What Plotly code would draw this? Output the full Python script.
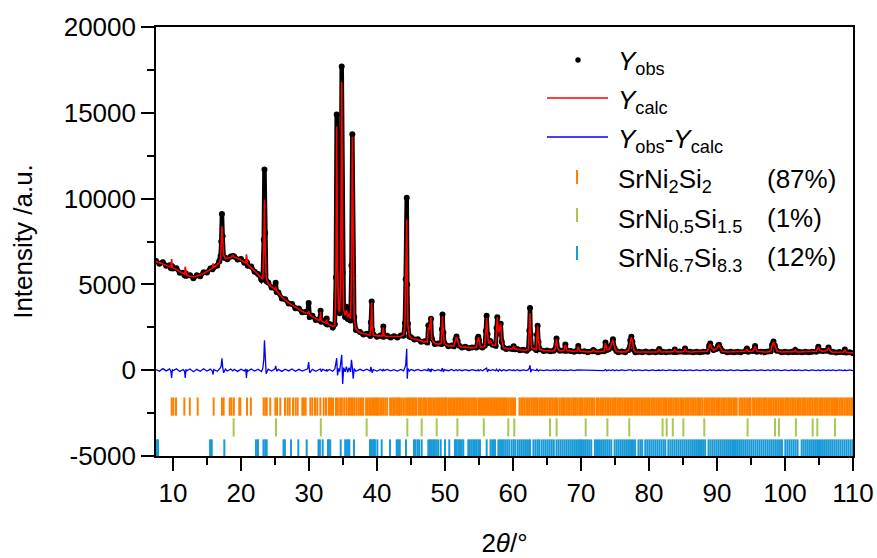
import plotly.graph_objects as go

# ---------------- data ----------------
two_theta = [
    7.5, 8.0, 8.5, 9.0, 9.5, 9.7, 9.8, 9.9, 10.0, 10.5,
    11.0, 11.5, 11.7, 11.8, 11.9, 12.0, 12.5, 13.0, 13.5, 14.0,
    14.5, 15.0, 15.5, 15.8, 15.9, 16.0, 16.5, 16.8, 17.0, 17.1,
    17.2, 17.3, 17.45, 17.7, 18.0, 18.5, 18.8, 19.0, 19.5, 20.0,
    20.5, 20.7, 20.8, 20.9, 21.0, 21.5, 22.0, 22.5, 23.0, 23.2,
    23.35, 23.45, 23.55, 23.7, 24.0, 24.5, 25.0, 25.1, 25.25, 25.5,
    26.0, 26.5, 27.0, 27.5, 28.0, 28.5, 29.0, 29.5, 29.8, 29.95,
    30.1, 30.5, 31.0, 31.5, 31.6, 31.7, 31.8, 32.0, 32.5, 32.6,
    32.7, 33.0, 33.5, 33.8, 33.95, 34.07, 34.2, 34.35, 34.5, 34.65,
    34.81, 34.95, 35.1, 35.3, 35.5, 35.7, 35.9, 36.1, 36.25, 36.37,
    36.5, 36.65, 36.9, 37.5, 38.0, 38.5, 39.0, 39.1, 39.22, 39.3,
    39.45, 40.0, 40.5, 40.8, 40.93, 41.05, 41.5, 42.0, 42.5, 43.0,
    43.5, 43.9, 44.1, 44.22, 44.37, 44.45, 44.55, 44.75, 45.0, 45.5,
    46.0, 46.5, 47.0, 47.4, 47.55, 47.7, 47.8, 47.94, 48.05, 48.5,
    49.0, 49.45, 49.55, 49.63, 49.75, 49.9, 50.5, 51.0, 51.3, 51.55,
    51.7, 51.85, 52.1, 52.5, 53.0, 53.5, 54.0, 54.6, 54.8, 54.9,
    55.0, 55.2, 55.5, 55.85, 56.0, 56.12, 56.25, 56.4, 56.7, 57.0,
    57.45, 57.58, 57.69, 57.85, 58.0, 58.19, 58.35, 58.6, 59.0, 59.5,
    59.9, 60.1, 60.3, 60.6, 61.0, 61.5, 62.0, 62.25, 62.4, 62.5,
    62.6, 62.75, 63.4, 63.52, 63.62, 63.75, 63.95, 64.5, 65.0, 65.5,
    66.0, 66.2, 66.4, 66.6, 66.9, 67.5, 67.7, 67.9, 68.5, 69.0,
    69.4, 69.6, 69.8, 70.5, 71.0, 71.6, 71.8, 72.0, 72.5, 73.0,
    73.4, 73.6, 73.8, 74.1, 74.4, 74.7, 74.95, 75.2, 75.5, 76.0,
    76.5, 77.0, 77.25, 77.4, 77.55, 77.8, 78.0, 78.5, 79.0, 79.5,
    80.0, 80.5, 81.0, 81.3, 81.5, 81.7, 82.0, 82.5, 83.0, 83.6,
    83.8, 84.0, 84.5, 85.1, 85.3, 85.5, 86.0, 86.5, 87.0, 87.5,
    88.0, 88.6, 88.85, 89.0, 89.15, 89.5, 89.9, 90.15, 90.3, 90.5,
    90.8, 91.5, 92.0, 92.5, 93.0, 93.5, 94.2, 94.4, 94.6, 95.3,
    95.6, 95.85, 96.5, 97.0, 97.5, 97.9, 98.1, 98.3, 98.5, 98.8,
    99.5, 100.0, 100.5, 101.0, 101.3, 101.5, 101.7, 102.0, 102.5, 103.0,
    103.5, 104.0, 104.6, 104.9, 105.15, 105.6, 106.1, 106.4, 106.7, 107.0,
    107.5, 108.0, 108.6, 108.8, 109.0, 109.5, 110.0,
]

y_calc = [
    6330, 6270, 6200, 6130, 6050, 6020, 6480, 6000, 5960, 5860,
    5750, 5640, 5600, 6030, 5570, 5540, 5470, 5450, 5480, 5540,
    5630, 5750, 5870, 5950, 6230, 5980, 6150, 6260, 6500, 7200,
    8400, 7600, 6700, 6500, 6520, 6560, 6700, 6580, 6520, 6420,
    6300, 6250, 6750, 6200, 6150, 5980, 5780, 5550, 5350, 5300,
    7000, 9950, 7500, 5400, 5050, 4870, 4700, 4850, 4620, 4480,
    4250, 4080, 3920, 3790, 3670, 3550, 3430, 3330, 3320, 3450,
    3250, 3120, 2990, 2900, 2950, 3400, 2900, 2830, 2760, 2950,
    2720, 2650, 2550, 2600, 5000, 14200, 6000, 3500, 3400, 5000,
    16800, 6500, 3500, 3200, 3500, 3100, 3300, 3000, 5500, 13600,
    6000, 3000, 2400, 2180, 2120, 2070, 2050, 2600, 3950, 2500,
    2050, 2000, 1980, 2000, 2480, 2000, 1960, 1950, 1950, 1960,
    1980, 2050, 2600, 5000, 8800, 5500, 2600, 2000, 1880, 1820,
    1760, 1700, 1650, 1650, 2500, 2350, 2600, 3100, 1800, 1560,
    1520, 1560, 2300, 3150, 2300, 1550, 1420, 1400, 1420, 1750,
    1930, 1750, 1400, 1360, 1330, 1310, 1300, 1350, 1800, 1930,
    1800, 1350, 1350, 1400, 2200, 3060, 2200, 1550, 1700, 1450,
    1450, 2400, 3080, 2200, 2300, 2710, 1700, 1300, 1260, 1240,
    1250, 1380, 1250, 1210, 1190, 1170, 1160, 1200, 2200, 3330,
    2200, 1300, 1200, 2000, 2590, 1700, 1200, 1140, 1130, 1120,
    1120, 1250, 1815, 1250, 1120, 1150, 1480, 1150, 1100, 1100,
    1120, 1385, 1120, 1080, 1070, 1080, 1190, 1080, 1070, 1080,
    1120, 1580, 1200, 1200, 1450, 1775, 1300, 1100, 1070, 1070,
    1070, 1150, 1700, 1930, 1700, 1150, 1070, 1060, 1060, 1070,
    1060, 1060, 1060, 1080, 1230, 1080, 1060, 1060, 1060, 1080,
    1200, 1080, 1070, 1090, 1260, 1090, 1060, 1060, 1060, 1060,
    1060, 1100, 1400, 1520, 1350, 1150, 1250, 1400, 1480, 1300,
    1100, 1060, 1060, 1060, 1060, 1060, 1100, 1250, 1100, 1100,
    1385, 1100, 1060, 1060, 1070, 1120, 1450, 1640, 1450, 1120,
    1060, 1060, 1060, 1060, 1080, 1160, 1080, 1060, 1060, 1060,
    1060, 1060, 1100, 1350, 1150, 1100, 1150, 1300, 1100, 1050,
    1050, 1040, 1060, 1200, 1050, 1020, 1010,
]

y_diff = [
    40, -60, 90, -40, 70, -80, -450, 50, -30, 80,
    -70, 40, -60, -450, 60, -40, 70, -90, 50, -60,
    80, -50, 60, -70, -250, 40, -60, 80, 150, 300,
    700, 200, -150, 60, -50, 70, -40, 50, -70, 60,
    -40, 70, -450, 40, -60, 70, -50, 60, -80, 100,
    600, 1750, 500, -200, 60, -50, 80, 250, -60, 50,
    -70, 60, -40, 70, -60, 50, -50, 60, 80, 470,
    -150, 50, -60, 40, 60, 70, -80, 50, -40, 60,
    -50, 40, -60, 80, 400, 700, -300, 100, -80, 300,
    900, -800, 150, -100, 200, -120, 150, -100, 600, 150,
    -500, 100, -60, 50, -40, 60, -50, 200, 60, -150,
    40, -50, 40, -40, 60, -30, 50, -40, 30, -50,
    40, -40, 150, 300, 1250, -500, 100, -40, 40, -30,
    40, -40, 30, -30, 100, -60, 50, -100, 60, -40,
    30, -40, 80, 90, -100, 40, -30, 40, -30, 40,
    30, -30, 30, -30, 30, -30, 30, -30, 40, 20,
    -40, 30, -30, 30, 80, 120, -100, 30, -20, 30,
    -30, 60, 0, -60, 40, 0, -40, 30, -30, 30,
    -20, 20, -30, 30, -30, 20, -20, 30, 120, 290,
    -120, 30, -20, 60, 0, -50, 20, -20, 20, -20,
    20, -20, 30, -30, 20, -20, 20, -20, 20, -20,
    20, 20, -20, 20, -20, 20, -10, 20, -20, 20,
    -20, 40, -30, 20, -20, 30, -30, 20, -20, 20,
    -20, 20, 30, 20, -30, 20, -20, 20, -20, 20,
    -20, 20, -20, 20, 10, -20, 20, -20, 20, -20,
    10, -20, 20, -20, 10, -20, 20, -20, 20, -20,
    20, -20, 20, 30, -20, 20, -20, 20, 10, -20,
    20, -20, 20, -20, 20, -20, 20, 10, -20, 20,
    20, -20, 20, -20, 20, -20, 20, 30, -20, 20,
    -20, 20, -20, 20, -20, 10, -20, 20, -20, 20,
    -20, 20, -20, 20, -20, 20, -20, 20, -20, 20,
    -20, 20, -20, 10, -20, 20, -20,
]

y_obs = [c + d for c, d in zip(y_calc, y_diff)]

# Bragg reflection positions (2theta, deg)
refl_srni2si2 = [
    9.81, 10.05, 10.44, 11.67, 12.47, 13.63, 15.98, 17.2, 17.45, 18.35,
    18.6, 18.95, 19.75, 19.9, 20.88, 21.45, 23.33, 23.58, 23.78, 24.3,
    25.05, 25.3, 25.78, 26.47, 26.86, 27.16, 27.65, 28.04, 28.33, 29.02,
    29.25, 29.51, 30.2, 30.49, 30.88, 31.22, 31.67, 32.16, 32.5, 32.9,
    33.1, 33.35, 33.55, 33.97, 34.25, 34.58, 34.83, 35.17, 35.5, 35.8,
    36.02, 36.26, 36.45, 36.7, 36.98, 37.27, 37.52, 37.76, 37.98, 38.4,
    38.62, 38.86, 39.1, 39.32, 39.56, 39.78, 40.0, 40.18, 40.46, 40.7,
    40.92, 41.2, 41.5, 41.93, 42.15, 42.38, 42.6, 42.82, 43.05, 43.25,
    43.37, 43.65, 43.96, 44.28, 44.5, 44.72, 44.95, 45.18, 45.4, 45.62,
    45.82, 46.15, 46.36, 46.56, 46.83, 47.06, 47.3, 47.56, 47.79, 48.06,
    48.3, 48.52, 48.8, 49.02, 49.24, 49.46, 49.68, 49.9, 50.1, 50.25,
    50.52, 50.73, 51.0, 51.22, 51.44, 51.66, 51.88, 52.1, 52.32, 52.54,
    52.76, 52.98, 53.2, 53.42, 53.66, 53.95, 54.17, 54.4, 54.64, 54.92,
    55.14, 55.36, 55.58, 55.8, 56.02, 56.24, 56.46, 56.68, 56.9, 57.12,
    57.34, 57.56, 57.78, 58.0, 58.22, 58.44, 58.66, 58.82, 59.1, 59.35,
    59.6, 59.85, 60.1, 60.3, 60.95, 61.2, 61.45, 61.7, 61.95, 62.2,
    62.45, 62.7, 62.95, 63.2, 63.4, 63.62, 63.88, 64.13, 64.38, 64.6,
    64.82, 65.07, 65.32, 65.57, 65.82, 66.07, 66.32, 66.55, 66.85, 67.1,
    67.35, 67.6, 67.85, 68.1, 68.35, 68.6, 68.85, 69.0, 69.25, 69.5,
    69.75, 70.0, 70.25, 70.5, 70.75, 71.0, 71.25, 71.5, 71.75, 72.0,
    72.35, 72.6, 72.85, 73.1, 73.35, 73.6, 73.85, 74.1, 74.35, 74.6,
    74.85, 75.1, 75.35, 75.6, 75.85, 76.1, 76.35, 76.6, 76.85, 77.05,
    77.35, 77.6, 77.85, 78.1, 78.35, 78.6, 78.85, 79.1, 79.35, 79.55,
    79.85, 80.1, 80.35, 80.6, 80.85, 81.1, 81.35, 81.6, 81.85, 82.1,
    82.35, 82.6, 82.85, 83.1, 83.35, 83.6, 83.85, 84.1, 84.35, 84.6,
    84.85, 85.1, 85.35, 85.6, 85.85, 86.1, 86.35, 86.6, 86.85, 87.1,
    87.35, 87.6, 87.85, 88.15, 88.4, 88.65, 88.9, 89.15, 89.4, 89.65,
    89.9, 90.15, 90.4, 90.65, 90.9, 91.15, 91.4, 91.65, 91.9, 92.15,
    92.4, 92.65, 92.9, 93.3, 93.55, 93.8, 94.05, 94.3, 94.55, 94.8,
    94.95, 95.3, 95.55, 95.8, 96.05, 96.3, 96.55, 96.8, 97.05, 97.3,
    97.55, 97.8, 98.05, 98.3, 98.55, 98.8, 99.05, 99.3, 99.55, 99.8,
    100.05, 100.3, 100.55, 100.8, 101.05, 101.3, 101.55, 101.8, 102.05, 102.3,
    102.55, 102.8, 103.05, 103.3, 103.55, 103.8, 104.05, 104.3, 104.55, 104.8,
    105.05, 105.3, 105.55, 105.8, 106.05, 106.3, 106.55, 106.8, 107.05, 107.3,
    107.5, 107.75, 108.0, 108.25, 108.5, 108.75, 109.0, 109.25, 109.5, 109.75,
    109.95,
]

refl_srni05si15 = [
    18.92, 25.15, 31.74, 38.48, 44.46, 46.57, 48.78, 51.82, 55.7, 59.31,
    60.19, 65.44, 66.42, 70.69, 73.88, 77.1, 82.0, 82.6, 83.5, 85.05,
    88.13, 94.5, 98.53, 99.12, 101.6, 104.07, 104.75, 107.35,
]

refl_srni67si83 = [
    7.65, 7.8, 15.45, 15.7, 17.55, 22.2, 22.5, 23.3, 23.55, 23.78,
    26.25, 26.45, 27.35, 28.43, 29.66, 31.4, 31.6, 32.01, 32.78, 32.94,
    33.12, 34.66, 35.32, 35.55, 35.75, 35.93, 36.62, 38.97, 39.15, 39.35,
    39.55, 39.7, 40.05, 40.69, 41.91, 42.9, 43.1, 43.35, 44.26, 45.44,
    45.65, 45.95, 46.2, 46.57, 47.55, 47.8, 48.02, 48.25, 48.5, 48.75,
    49.0, 49.37, 50.0, 50.63, 51.47, 51.7, 51.95, 52.2, 52.45, 52.69,
    53.43, 53.65, 53.9, 54.15, 54.4, 54.65, 54.9, 55.15, 56.13, 56.7,
    56.95, 57.2, 57.35, 57.85, 58.1, 58.35, 58.57, 58.85, 59.15, 59.45,
    59.8, 60.1, 60.35, 60.7, 61.0, 61.3, 61.6, 61.9, 62.2, 62.5,
    63.0, 63.3, 63.6, 63.85, 64.2, 64.5, 64.8, 65.1, 65.4, 65.7,
    66.0, 66.4, 66.7, 67.0, 67.3, 67.6, 67.9, 68.2, 68.5, 68.8,
    69.1, 69.4, 69.7, 70.0, 70.3, 70.6, 70.9, 71.2, 71.5, 72.05,
    72.35, 72.65, 72.95, 73.25, 73.55, 73.85, 74.15, 74.45, 74.95, 75.25,
    75.55, 75.85, 76.15, 76.45, 76.75, 77.05, 77.35, 77.65, 77.95, 78.45,
    78.75, 79.0, 79.45, 79.75, 80.05, 80.35, 80.65, 80.95, 81.25, 81.55,
    81.85, 82.15, 82.4, 82.85, 83.15, 83.45, 83.75, 84.05, 84.35, 84.65,
    84.95, 85.25, 85.55, 85.85, 86.15, 86.45, 86.75, 87.05, 87.35, 87.65,
    87.95, 88.25, 88.75, 89.05, 89.35, 89.65, 89.95, 90.25, 90.55, 90.85,
    91.15, 91.45, 91.75, 92.05, 92.35, 92.65, 92.95, 93.25, 93.55, 93.85,
    94.15, 94.45, 94.75, 95.05, 95.35, 95.65, 95.95, 96.25, 96.55, 96.85,
    97.15, 97.45, 97.75, 98.05, 98.35, 98.65, 98.95, 99.25, 99.55, 100.05,
    100.35, 100.65, 100.95, 101.25, 101.55, 101.85, 102.45, 102.75, 103.05, 103.35,
    103.65, 103.95, 104.25, 104.55, 104.85, 105.15, 105.45, 105.75, 106.05, 106.35,
    106.65, 106.95, 107.25, 107.55, 107.85, 108.15, 108.45, 108.75, 109.05, 109.35,
    109.65, 109.95,
]

phase_names = ["SrNi<sub>2</sub>Si<sub>2</sub>",
               "SrNi<sub>0.5</sub>Si<sub>1.5</sub>",
               "SrNi<sub>6.7</sub>Si<sub>8.3</sub>"]
phase_fractions = ["(87%)", "(1%)", "(12%)"]

y_tick_vals = [-5000, 0, 5000, 10000, 15000, 20000]
y_tick_text = ["-5000", "0", "5000", "10000", "15000", "20000"]
y_minor_vals = [-2500, 2500, 7500, 12500, 17500]

# ---------------- styling / layout ----------------
FONT = "Liberation Sans, Arial, sans-serif"
W, H = 877, 558
L, R, T, B = 156, 24, 27, 102
PW, PH = W - L - R, H - T - B

C_OBS = "#000000"
C_CALC = "#FF0000"
C_DIFF = "#0000FF"
C_PH = ["#FF8000", "#A8C850", "#1A9AD6"]
TICK_ROWS = [-2120, -3335, -4560]


def pxx(x):
    return (x - L) / PW


def pxy(y):
    return (H - B - y) / PH


fig = go.Figure()

# observed: thick band + dots
fig.add_trace(go.Scatter(x=two_theta, y=y_obs, mode="lines",
                         line=dict(color=C_OBS, width=4.5),
                         showlegend=False, hoverinfo="skip"))
fig.add_trace(go.Scatter(x=two_theta, y=y_obs, mode="markers",
                         marker=dict(color=C_OBS, size=6),
                         name="Y<sub>obs</sub>", showlegend=False))
fig.add_trace(go.Scatter(x=two_theta, y=y_calc, mode="lines",
                         line=dict(color=C_CALC, width=1.6),
                         name="Y<sub>calc</sub>", showlegend=False))
fig.add_trace(go.Scatter(x=two_theta, y=y_diff, mode="lines",
                         line=dict(color=C_DIFF, width=1.3),
                         name="Y<sub>obs</sub>-Y<sub>calc</sub>", showlegend=False))

for refl, col, row, nm in zip([refl_srni2si2, refl_srni05si15, refl_srni67si83],
                              C_PH, TICK_ROWS, phase_names):
    fig.add_trace(go.Scatter(x=refl, y=[row] * len(refl), mode="markers",
                             marker=dict(symbol="line-ns", size=13,
                                         line=dict(color=col, width=2)),
                             name=nm, showlegend=False))

# ---------------- manual legend ----------------
shapes = []
annots = []
shapes.append(dict(type="circle", xref="paper", yref="paper",
                   x0=pxx(575.3), x1=pxx(580.7), y0=pxy(62.7), y1=pxy(57.3),
                   fillcolor=C_OBS, line=dict(width=0)))
for yy, col in [(98, C_CALC), (137, C_DIFF)]:
    shapes.append(dict(type="line", xref="paper", yref="paper",
                       x0=pxx(547), x1=pxx(608), y0=pxy(yy), y1=pxy(yy),
                       line=dict(color=col, width=1.6)))
for yy, col in zip([177, 215, 253], C_PH):
    shapes.append(dict(type="line", xref="paper", yref="paper",
                       x0=pxx(577), x1=pxx(577), y0=pxy(yy - 7), y1=pxy(yy + 7),
                       line=dict(color=col, width=2)))

leg_texts = ["<i>Y</i><sub>obs</sub>", "<i>Y</i><sub>calc</sub>",
             "<i>Y</i><sub>obs</sub>-<i>Y</i><sub>calc</sub>"] + phase_names
leg_y = [62, 101, 140, 181, 220, 259]
for txt, yy in zip(leg_texts, leg_y):
    annots.append(dict(text=txt, xref="paper", yref="paper", x=pxx(616), y=pxy(yy),
                       xanchor="left", yanchor="middle", showarrow=False,
                       font=dict(family=FONT, size=26, color="black")))
for txt, yy in zip(phase_fractions, leg_y[3:]):
    annots.append(dict(text=txt, xref="paper", yref="paper", x=pxx(765), y=pxy(yy - 2),
                       xanchor="left", yanchor="middle", showarrow=False,
                       font=dict(family=FONT, size=26, color="black")))

axis_common = dict(showline=True, linecolor="black", linewidth=1.6, mirror=True,
                   showgrid=False, zeroline=False, ticks="outside",
                   tickcolor="black", tickwidth=1.6, ticklen=13,
                   tickfont=dict(family=FONT, size=26, color="black"))

fig.update_layout(
    width=W, height=H,
    margin=dict(l=L, r=R, t=T, b=B, autoexpand=False),
    paper_bgcolor="white", plot_bgcolor="white",
    showlegend=False,
    shapes=shapes, annotations=annots,
    xaxis=dict(range=[7.5, 110], tickmode="linear", tick0=0, dtick=10,
               minor=dict(dtick=5, tick0=0, ticks="outside", ticklen=7,
                          tickcolor="black", tickwidth=1.6),
               title=dict(text="2<i>θ</i>/°", standoff=27,
                          font=dict(family=FONT, size=26, color="black")),
               **axis_common),
    yaxis=dict(range=[-5000, 20000], tickmode="array",
               tickvals=y_tick_vals, ticktext=y_tick_text,
               minor=dict(tickvals=y_minor_vals, ticks="outside", ticklen=7,
                          tickcolor="black", tickwidth=1.6),
               title=dict(text="Intensity /a.u.", standoff=24,
                          font=dict(family=FONT, size=26, color="black")),
               **axis_common),
)

fig.write_html("out.html")
